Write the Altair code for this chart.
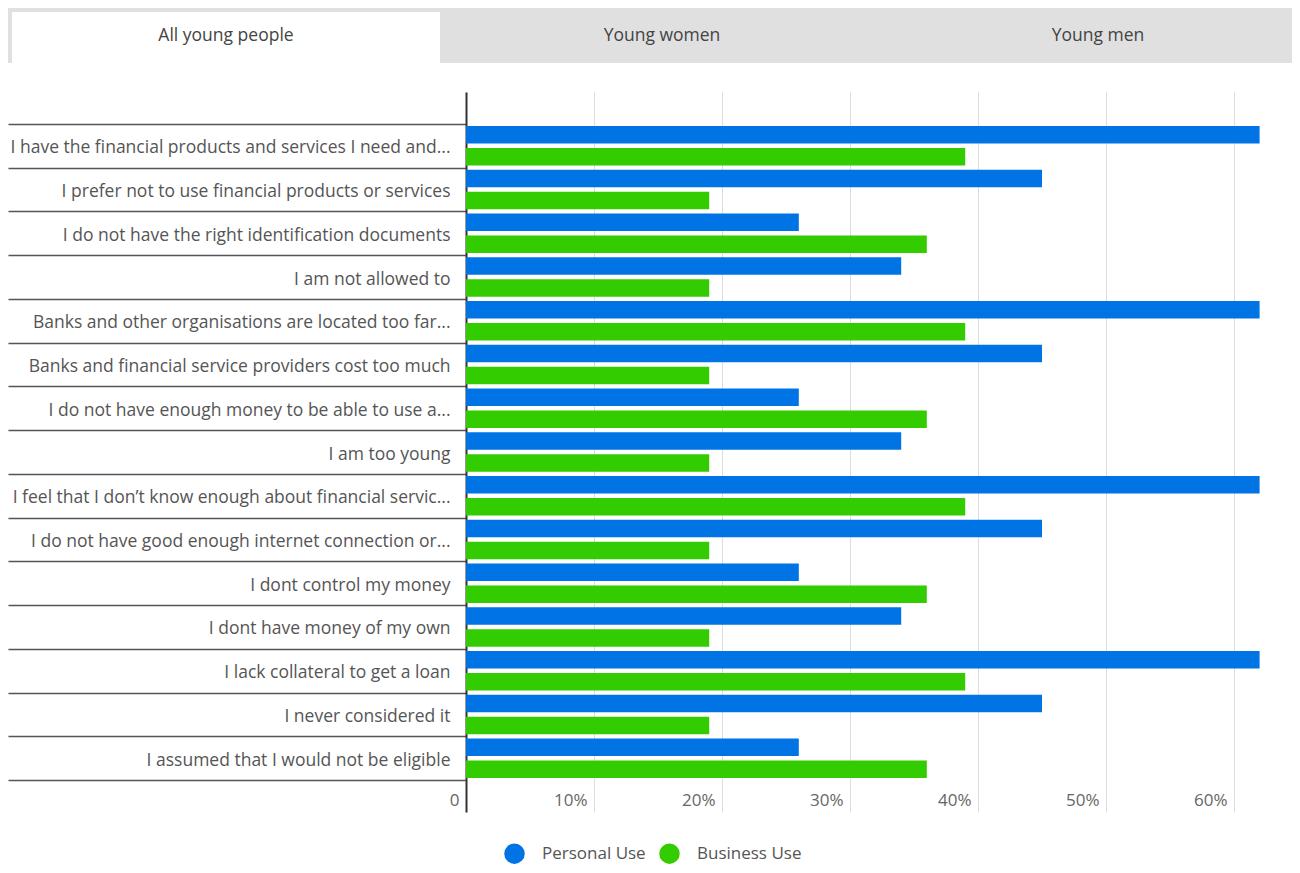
import altair as alt
import pandas as pd

# ---- data ----
reasons = [
    "I have the financial products and services I need and...",
    "I prefer not to use financial products or services",
    "I do not have the right identification documents",
    "I am not allowed to",
    "Banks and other organisations are located too far...",
    "Banks and financial service providers cost too much",
    "I do not have enough money to be able to use a...",
    "I am too young",
    "I feel that I don\u2019t know enough about financial servic...",
    "I do not have good enough internet connection or...",
    "I dont control my money",
    "I dont have money of my own",
    "I lack collateral to get a loan",
    "I never considered it",
    "I assumed that I would not be eligible",
]
personal_use = [0.62, 0.45, 0.26, 0.34, 0.62, 0.45, 0.26, 0.34, 0.62, 0.45, 0.26, 0.34, 0.62, 0.45, 0.26]
business_use = [0.39, 0.19, 0.36, 0.19, 0.39, 0.19, 0.36, 0.19, 0.39, 0.19, 0.36, 0.19, 0.39, 0.19, 0.36]
series_names = ["Personal Use", "Business Use"]
series_colors = ["#0073e5", "#33cc00"]
x_ticks = [0, 0.1, 0.2, 0.3, 0.4, 0.5, 0.6]

tab_names = ["All young people", "Young women", "Young men"]
tab_active = [True, False, False]

rows = []
for r, p, b in zip(reasons, personal_use, business_use):
    rows.append({"reason": r, "series": series_names[0], "value": p})
    rows.append({"reason": r, "series": series_names[1], "value": b})
df = pd.DataFrame(rows)

tabs = pd.DataFrame({
    "tab": tab_names,
    "start": list(range(len(tab_names))),
    "end": [i + 1 for i in range(len(tab_names))],
    "mid": [i + 0.5 for i in range(len(tab_names))],
    "active": tab_active,
})

FONT = "Open Sans"
FS = 17.5

bars = alt.Chart(df).mark_bar().encode(
    x=alt.X(
        "value:Q",
        scale=alt.Scale(domain=[0, 0.64375], nice=False, zero=True),
        axis=alt.Axis(
            values=x_ticks,
            labelExpr="datum.value == 0 ? '0' : format(datum.value, '.0%')",
            title=None,
            domain=False,
            ticks=False,
            tickSize=0,
            grid=True,
            gridColor="#dddddd",
            gridWidth=1,
            labelAlign="right",
            labelBaseline="middle",
            labelPadding=-12,
            labelOffset=-7,
            labelFont=FONT,
            labelFontSize=17,
            labelColor="#666666",
        ),
    ),
    y=alt.Y(
        "reason:N",
        sort=reasons,
        scale=alt.Scale(paddingOuter=0.73, paddingInner=0),
        axis=alt.Axis(
            title=None,
            domainColor="#333333",
            domainWidth=2,
            ticks=True,
            tickBand="extent",
            tickSize=458,
            tickColor="#555555",
            tickWidth=1.5,
            labelPadding=-442,
            labelAlign="right",
            labelOffset=2,
            labelFont=FONT,
            labelFontSize=FS,
            labelColor="#555555",
            labelLimit=1000,
            grid=False,
        ),
    ),
    yOffset=alt.YOffset(
        "series:N",
        sort=series_names,
        scale=alt.Scale(paddingInner=0.2, paddingOuter=0.1),
    ),
    color=alt.Color(
        "series:N",
        sort=series_names,
        scale=alt.Scale(domain=series_names, range=series_colors),
        legend=alt.Legend(
            title=None,
            orient="none",
            legendX=38,
            legendY=751,
            direction="horizontal",
            symbolType="circle",
            symbolSize=420,
            symbolStrokeWidth=0,
            symbolOpacity=1,
            labelFont=FONT,
            labelFontSize=17,
            labelColor="#555555",
            labelOffset=17,
            columnPadding=13,
            padding=0,
        ),
    ),
)

tab_x = alt.Scale(domain=[0, 3], range=[-458, 850])

tab_bg = alt.Chart(tabs).mark_rect(color="#e0e0e0").encode(
    x=alt.X("start:Q", scale=tab_x, axis=None),
    x2="end:Q",
    y=alt.value(-84),
    y2=alt.value(-29),
)

tab_white = alt.Chart(tabs).transform_filter("datum.active").mark_rect(
    color="#ffffff", xOffset=4, x2Offset=-4
).encode(
    x=alt.X("start:Q", scale=tab_x, axis=None),
    x2="end:Q",
    y=alt.value(-80),
    y2=alt.value(-29),
)

tab_text = alt.Chart(tabs).mark_text(
    font=FONT, fontSize=FS, color="#444444", baseline="middle", align="center"
).encode(
    x=alt.X("mid:Q", scale=tab_x, axis=None),
    y=alt.value(-56),
    text="tab:N",
)

chart = alt.layer(bars, tab_bg, tab_white, tab_text).resolve_scale(
    x="independent"
).properties(
    width=824,
    height=720,
    autosize=alt.AutoSizeParams(type="none"),
    padding={"left": 458, "top": 84, "right": 2, "bottom": 53},
).configure_view(stroke=None)

chart.save("out.html", embed_options={"renderer": "svg", "actions": False})
